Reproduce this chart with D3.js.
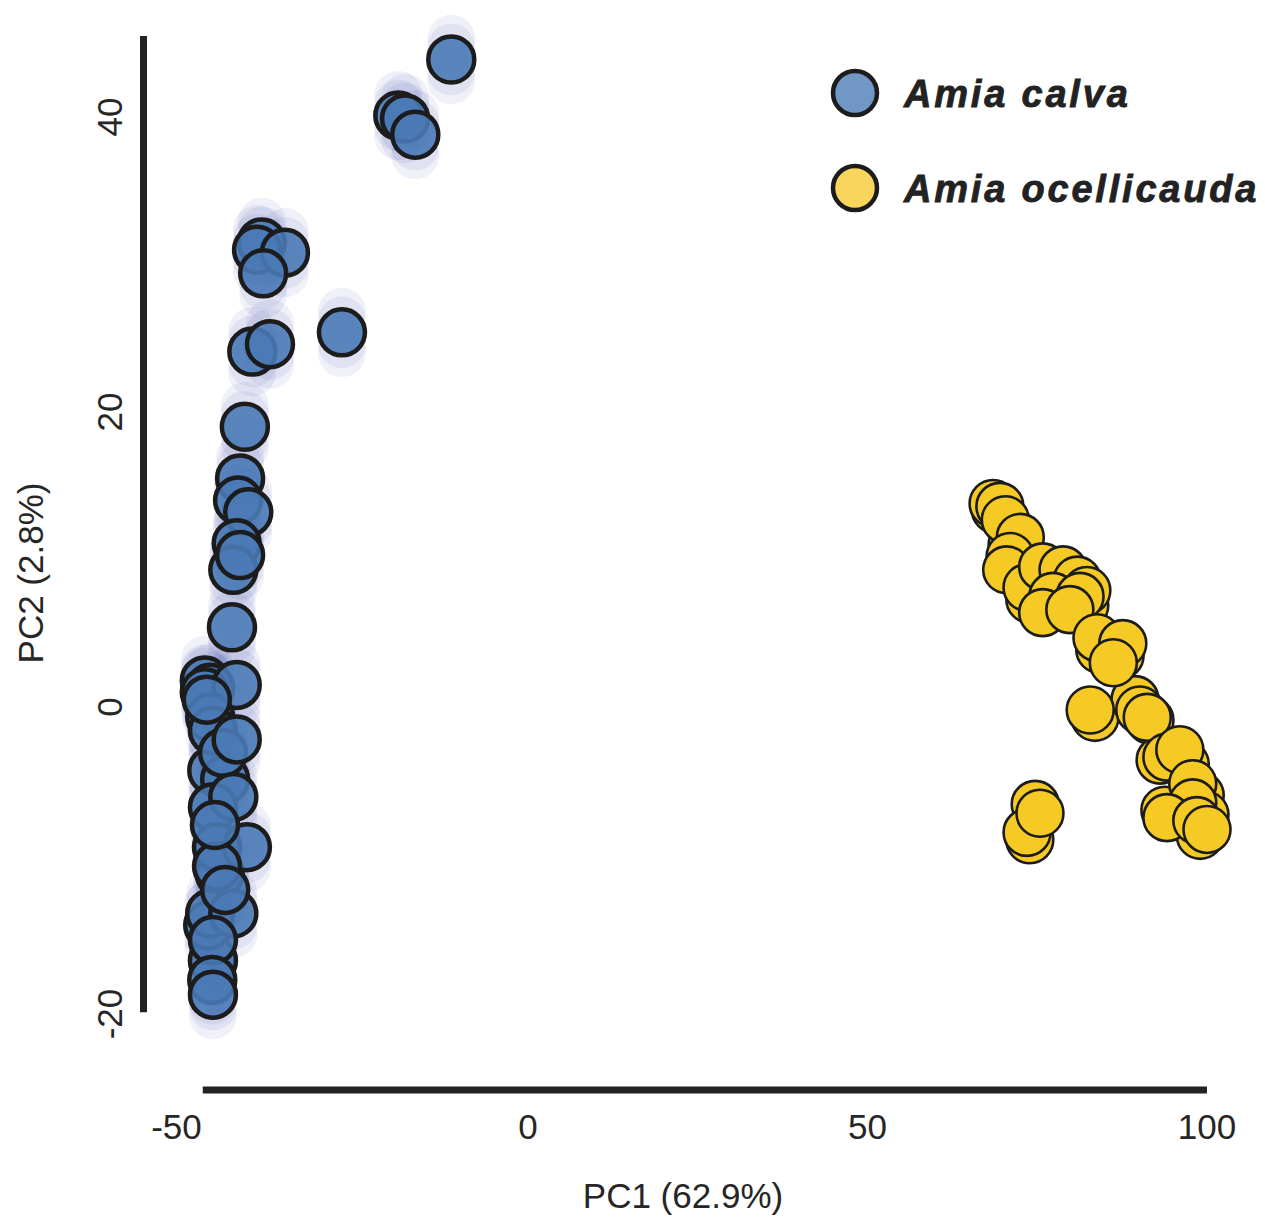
<!DOCTYPE html>
<html>
  <head>
    <meta charset="utf-8">
    <script src="https://d3js.org/d3.v7.min.js"></script>
    <style>
      body { margin: 0; background: #fff; }
      text { font-family: "Liberation Sans", Arial, sans-serif; fill: #262626; }
      .tick-label { font-size: 35px; }
      .axis-title { font-size: 35px; }
      .legend-text { font-size: 38px; font-weight: bold; font-style: italic; letter-spacing: 2.8px;
                     stroke: #222; stroke-width: 0.8px; fill: #222; }
    </style>
  </head>
<body>
  <script type="text/javascript">
    // PC scores (points drawn in this order, later ones on top)
    var calvaPC1 = [-46.4, -47.1, -45.4, -46.5, -44.6, -47.6,
                    -11.3, -19.1, -18.1, -16.6, -39.2, -39.9, -35.8, -39.0, -40.6, -38.0,
                    -27.4, -41.7, -42.4, -42.7, -41.2, -42.9, -43.4, -42.4, -43.6, -46.8,
                    -47.6, -42.9, -46.8, -46.4, -44.9, -42.9, -46.4, -43.4, -45.8, -41.4,
                    -45.8, -46.8, -43.4, -46.4, -46.5, -46.4, -46.1, -44.6, -47.3];
    var calvaPC2 = [-17.2, -14.8, -11.3, -4.3, -4.9, 1.8,
                    43.9, 40.1, 39.9, 38.8, 31.5, 31.0, 30.8, 29.4, 24.1, 24.6,
                    25.4, 19.0, 15.5, 14.0, 13.2, 11.1, 9.3, 10.3, 5.4, 1.3,
                    1.0, 1.5, -0.7, -1.6, -3.1, -2.2, -6.8, -6.1, -9.5, -9.5,
                    -10.8, -14.0, -14.0, -15.8, -18.5, -19.5, -8.0, -12.4, 0.5];

    var ocelPC1 = [68.8, 71.3, 73.2, 73.9, 78.4, 82.0, 84.2, 87.2, 83.5, 89.4,
                   91.6, 93.1, 96.8, 99.0, 99.7, 99.0, 93.8, 74.7, 73.9,
                   68.5, 69.5, 70.3, 72.5, 71.0, 70.5, 73.5, 75.8, 78.8, 80.9,
                   82.3, 77.3, 81.3, 75.8, 79.8, 83.8, 87.6, 86.2, 82.8, 90.1,
                   91.2, 94.1, 96.0, 97.9, 97.9, 94.1, 98.5, 100.0, 73.5, 75.4];
    var ocelPC2 = [13.4, 11.0, 10.0, 7.3, 8.3, 6.9, 3.9, 3.5, -0.7, 0.5,
                   -0.9, -3.6, -3.9, -6.0, -7.3, -8.7, -7.0, -6.6, -9.0,
                   13.8, 13.6, 12.7, 11.5, 10.2, 9.3, 8.1, 9.5, 9.3, 8.6,
                   7.9, 7.5, 7.5, 6.4, 6.6, 4.7, 4.3, 3.0, -0.2, -0.2,
                   -0.7, -3.4, -2.9, -5.2, -6.5, -7.5, -7.7, -8.3, -8.5, -7.2];

    var xTicks = [-50, 0, 50, 100];
    var yTicks = [-20, 0, 20, 40];
    var xSpine = [-47.9, 100];
    var ySpine = [-20.7, 45.5];
    var species = ["Amia calva", "Amia ocellicauda"];

    var width = 1265, height = 1218;
    var colors = {"Amia calva": "#4a7ab6", "Amia ocellicauda": "#f6ca24"};
    var legendColors = {"Amia calva": "#7197c6", "Amia ocellicauda": "#fad55e"};

    var x = d3.scaleLinear().domain([0, 100]).range([528, 1207]);
    var y = d3.scaleLinear().domain([0, 40]).range([707, 117]);

    var svg = d3.select("body").append("svg")
        .attr("width", width)
        .attr("height", height);

    // spines (trimmed like seaborn despine)
    svg.append("line")
        .attr("x1", x(xSpine[0])).attr("x2", x(xSpine[1]))
        .attr("y1", 1090).attr("y2", 1090)
        .attr("stroke", "#222").attr("stroke-width", 7);
    svg.append("line")
        .attr("x1", 143.5).attr("x2", 143.5)
        .attr("y1", y(ySpine[1])).attr("y2", y(ySpine[0]))
        .attr("stroke", "#222").attr("stroke-width", 7);

    // tick labels
    svg.selectAll(".xlab").data(xTicks).enter().append("text")
        .attr("class", "tick-label")
        .attr("x", function(d) { return x(d) + (d < 0 ? -12 : 0); })
        .attr("y", 1139)
        .attr("text-anchor", "middle")
        .text(function(d) { return d; });

    svg.selectAll(".ylab").data(yTicks).enter().append("text")
        .attr("class", "tick-label")
        .attr("transform", function(d) {
          return "translate(122," + (y(d) + (d < 0 ? 12 : 0)) + ") rotate(-90)";
        })
        .attr("text-anchor", "middle")
        .text(function(d) { return d; });

    svg.append("text").attr("class", "axis-title")
        .attr("x", 683).attr("y", 1208)
        .attr("text-anchor", "middle")
        .text("PC1 (62.9%)");
    svg.append("text").attr("class", "axis-title")
        .attr("transform", "translate(43,573) rotate(-90)")
        .attr("text-anchor", "middle")
        .text("PC2 (2.8%)");

    var calva = calvaPC1.map(function(v, i) { return {pc1: v, pc2: calvaPC2[i]}; });
    var ocel = ocelPC1.map(function(v, i) { return {pc1: v, pc2: ocelPC2[i]}; });

    // faint replicate halos behind A. calva points
    var haloShift = [-1.4, -0.8, 0.8, 1.4];
    var halo = svg.append("g");
    haloShift.forEach(function(s) {
      halo.selectAll(null).data(calva).enter().append("circle")
          .attr("cx", function(d) { return x(d.pc1); })
          .attr("cy", function(d) { return y(d.pc2 + s); })
          .attr("r", 24)
          .attr("fill", "#3345a0")
          .attr("fill-opacity", 0.08);
    });

    svg.append("g").selectAll("circle").data(calva).enter().append("circle")
        .attr("cx", function(d) { return x(d.pc1); })
        .attr("cy", function(d) { return y(d.pc2); })
        .attr("r", 23)
        .attr("fill", colors["Amia calva"])
        .attr("fill-opacity", 0.9)
        .attr("stroke", "#1c1c1c")
        .attr("stroke-width", 4.5);

    svg.append("g").selectAll("circle").data(ocel).enter().append("circle")
        .attr("cx", function(d) { return x(d.pc1); })
        .attr("cy", function(d) { return y(d.pc2); })
        .attr("r", 23.5)
        .attr("fill", colors["Amia ocellicauda"])
        .attr("stroke", "#1c1c1c")
        .attr("stroke-width", 2.6);

    // legend
    var legend = svg.append("g").selectAll("g").data(species).enter().append("g")
        .attr("transform", function(d, i) { return "translate(855," + (93 + i * 95) + ")"; });
    legend.append("circle")
        .attr("r", 22)
        .attr("fill", function(d) { return legendColors[d]; })
        .attr("stroke", "#1c1c1c")
        .attr("stroke-width", 4.5);
    legend.append("text")
        .attr("class", "legend-text")
        .attr("x", 49).attr("y", 14)
        .text(function(d) { return d; });
  </script>
</body>
</html>
